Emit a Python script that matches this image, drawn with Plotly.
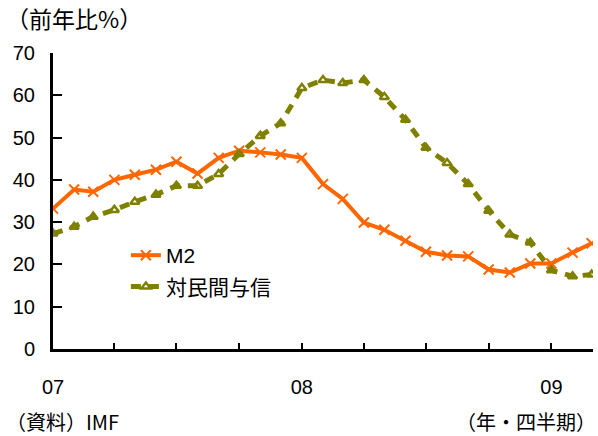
import plotly.graph_objects as go
import pandas as pd

months = pd.date_range("2007-01-01", "2009-03-01", freq="MS")

m2 = [33.2, 37.7, 37.2, 40.0, 41.2, 42.4, 44.3, 41.5, 45.2, 46.9, 46.5, 46.0,
      45.2, 39.0, 35.5, 29.9, 28.2, 25.6, 23.0, 22.1, 21.9, 18.8, 18.1, 20.2,
      20.2, 22.8, 25.0]
credit = [27.3, 28.9, 31.3, 32.9, 34.8, 36.5, 38.6, 38.6, 41.4, 46.1, 50.4, 53.4,
          61.7, 63.6, 62.9, 63.6, 59.6, 54.2, 47.6, 44.0, 39.0, 32.7, 27.1, 25.2,
          18.6, 17.2, 17.6]

tick_dates = pd.date_range("2007-01-01", "2009-01-01", freq="QS")
year_labels = {2007: "07", 2008: "08", 2009: "09"}
tick_text = [year_labels[d.year] if d.month == 1 else "" for d in tick_dates]

FONT = "Liberation Sans, Arial, Noto Sans CJK JP"
ORANGE = "#FF6600"
OLIVE = "#808000"

fig = go.Figure()
fig.add_trace(go.Scatter(
    x=months, y=m2, name="M2", mode="lines+markers", legendgroup="a",
    line=dict(color=ORANGE, width=4),
    marker=dict(symbol="x-thin", size=10, line=dict(color=ORANGE, width=2)),
))
fig.add_trace(go.Scatter(
    x=months, y=credit, name="対民間与信", mode="lines+markers", legendgroup="b",
    line=dict(color=OLIVE, width=5, dash="10px,8px"),
    marker=dict(symbol="triangle-up-open", size=8, color=OLIVE,
                line=dict(color=OLIVE, width=2.5)),
))

fig.update_layout(
    width=598, height=436,
    margin=dict(l=53, r=5, t=53, b=87),
    paper_bgcolor="white", plot_bgcolor="white",
    font=dict(family=FONT, size=20, color="black"),
    showlegend=True,
    legend=dict(x=0.135, y=0.385, xanchor="left", yanchor="top",
                bgcolor="rgba(0,0,0,0)", font=dict(size=21),
                traceorder="grouped", tracegroupgap=1),
    xaxis=dict(
        range=["2007-01-01", "2009-03-03"],
        tickmode="array", tickvals=tick_dates, ticktext=tick_text,
        ticks="inside", ticklen=6, tickwidth=2, tickcolor="black",
        showline=True, linecolor="black", linewidth=3,
        showgrid=False, zeroline=False,
        ticklabelstandoff=18,
        tickfont=dict(size=20),
    ),
    yaxis=dict(
        range=[0, 70], tickmode="array", tickvals=list(range(0, 71, 10)),
        ticks="inside", ticklen=9, tickwidth=2, tickcolor="black",
        showline=True, linecolor="black", linewidth=3,
        showgrid=False, zeroline=False,
        ticklabelstandoff=11,
        tickfont=dict(size=20),
    ),
    annotations=[
        dict(text="（前年比%）", xref="paper", yref="paper", x=-0.09, y=1.0,
             xanchor="left", yanchor="bottom", yshift=16, showarrow=False,
             font=dict(size=23, family="Noto Sans CJK JP")),
        dict(text="（資料）IMF", xref="paper", yref="paper", x=-0.09, y=0,
             xanchor="left", yanchor="top", yshift=-56, showarrow=False,
             font=dict(size=20, family="Noto Sans CJK JP")),
        dict(text="（年・四半期）", xref="paper", yref="paper", x=1.009, y=0,
             xanchor="right", yanchor="top", yshift=-56, showarrow=False,
             font=dict(size=20, family="Noto Sans CJK JP")),
    ],
)

fig.write_html("out.html", config={"displayModeBar": False},
               post_script="document.body.style.margin='0';")
